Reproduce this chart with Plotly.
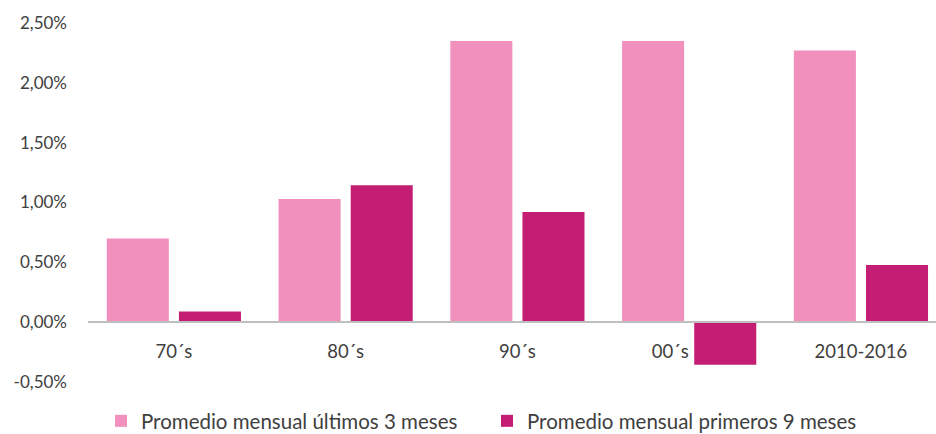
import plotly.graph_objects as go

categories = ["70´s", "80´s", "90´s", "00´s", "2010-2016"]
category_labels = ["70´s", "80´s", "90´s", "00´s" + "\u00a0" * 8, "2010-2016"]
ultimos_3 = [0.70, 1.03, 2.35, 2.35, 2.27]
primeros_9 = [0.09, 1.145, 0.92, -0.355, 0.477]
series_names = ["Promedio mensual últimos 3 meses", "Promedio mensual primeros 9 meses"]
y_ticks = [-0.5, 0.0, 0.5, 1.0, 1.5, 2.0, 2.5]
y_tick_labels = ["-0,50%", "0,00%", "0,50%", "1,00%", "1,50%", "2,00%", "2,50%"]

LIGHT = "#F190BC"
DARK = "#C41E74"
TEXT = "#404040"
FONT = "Lato"

fig = go.Figure()
fig.add_trace(go.Bar(x=categories, y=ultimos_3, name=series_names[0],
                     marker=dict(color=LIGHT, line=dict(width=0))))
fig.add_trace(go.Bar(x=categories, y=primeros_9, name=series_names[1],
                     marker=dict(color=DARK, line=dict(width=0))))

fig.update_layout(
    width=936, height=434,
    margin=dict(l=88, r=0, t=23, b=52, autoexpand=False),
    paper_bgcolor="white", plot_bgcolor="white",
    barmode="group", bargap=0.16, bargroupgap=0.14,
    font=dict(family=FONT, color=TEXT, size=16),
    showlegend=True,
    legend=dict(orientation="h", xref="container", yref="container",
                x=101/936, y=13/434, xanchor="left", yanchor="middle",
                font=dict(size=20.5, color=TEXT, family=FONT),
                entrywidth=341, entrywidthmode="pixels",
                itemsizing="constant", bgcolor="rgba(0,0,0,0)"),
    xaxis=dict(type="category", range=[-0.5, 4.437],
               anchor="free", position=1/6,
               tickvals=categories, ticktext=category_labels,
               showline=True, linecolor="#BFBFBF", linewidth=2,
               showgrid=False, ticks="", zeroline=False,
               ticklabelstandoff=13,
               tickfont=dict(size=18.5, color=TEXT, family=FONT)),
    yaxis=dict(range=[-0.5, 2.5], domain=[0, 1],
               tickvals=y_ticks, ticktext=y_tick_labels,
               showgrid=False, zeroline=False, showline=False,
               ticks="", ticklabelstandoff=20,
               tickfont=dict(size=17, color=TEXT, family=FONT)),
)

fig.write_html("out.html")
